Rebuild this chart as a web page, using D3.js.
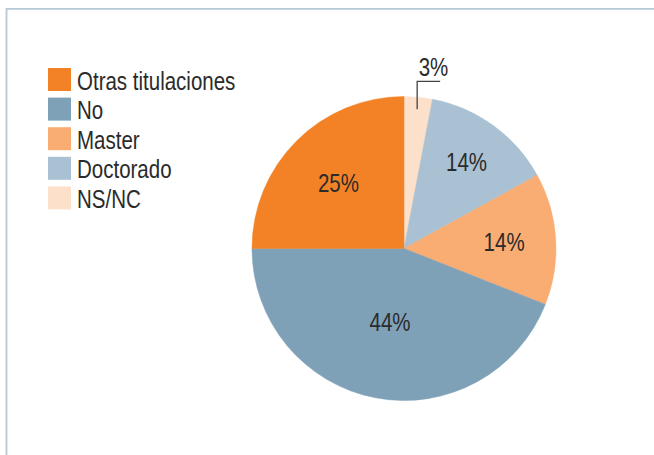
<!DOCTYPE html>
<html>
<head>
<meta charset="utf-8">
<script src="https://cdn.jsdelivr.net/npm/d3@7"></script>
<style>
    body { margin: 0; background: #fff; }
    svg { display: block; }
    text { font-family: "Liberation Sans Narrow", "Liberation Sans", sans-serif; fill: #2b2b2b; }
</style>
</head>
<body>
<div id="pie-chart"></div>
<script>
// slices, clockwise from 12 o'clock
var categories = ['NS/NC', 'Doctorado', 'Master', 'No', 'Otras titulaciones'];
var percents = [3, 14, 14, 44, 25];
// legend order as printed
var legendOrder = ['Otras titulaciones', 'No', 'Master', 'Doctorado', 'NS/NC'];

var colors = {
    'Otras titulaciones': '#f38226',
    'No': '#7fa1b8',
    'Master': '#f9ad73',
    'Doctorado': '#a9c1d2',
    'NS/NC': '#fde0c9'
};
// how far from the centre each label sits (share of radius)
var labelPos = { 'Doctorado': 0.70, 'Master': 0.66, 'No': 0.49, 'Otras titulaciones': 0.61 };

var width = 654, height = 455;
var cx = 404, cy = 248.5, radius = 152;
var squeeze = 0.82; // the original face is a narrow sans

var svg = d3.select('#pie-chart').append('svg')
    .attr('width', width)
    .attr('height', height);

// frame (top and left rules)
svg.append('path')
    .attr('d', 'M6.5,' + height + 'V8.8H' + width)
    .style('fill', 'none')
    .style('stroke', '#b5c9d7')
    .style('stroke-width', 1.8);

var data = categories.map(function(c, i) { return { name: c, value: percents[i] }; });

var pie = d3.pie()
    .sort(null)
    .value(function(d) { return d.value; });

var arc = d3.arc().innerRadius(0).outerRadius(radius);

var slices = pie(data);

var g = svg.append('g')
    .attr('transform', 'translate(' + cx + ',' + cy + ')');

g.selectAll('path.slice')
    .data(slices)
    .enter().append('path')
    .attr('class', 'slice')
    .attr('d', arc)
    .style('fill', function(d) { return colors[d.data.name]; })
    .style('stroke', function(d) { return colors[d.data.name]; })
    .style('stroke-width', 0.5);

function midAngle(d) { return (d.startAngle + d.endAngle) / 2; }

// labels inside the slices
g.selectAll('text.pct')
    .data(slices.filter(function(d) { return labelPos[d.data.name]; }))
    .enter().append('text')
    .attr('class', 'pct')
    .attr('transform', function(d) {
        var r = radius * labelPos[d.data.name];
        return 'translate(' + (Math.sin(midAngle(d)) * r) + ',' + (-Math.cos(midAngle(d)) * r) + ') scale(' + squeeze + ',1)';
    })
    .attr('dy', '0.36em')
    .style('text-anchor', 'middle')
    .style('font-size', '25px')
    .text(function(d) { return d.data.value + '%'; });

// small slice gets a leader line
var small = slices.filter(function(d) { return !labelPos[d.data.name]; });
small.forEach(function(d) {
    var a = midAngle(d);
    var lx = Math.sin(a) * radius * 0.92;
    var y0 = -Math.cos(a) * radius * 0.92;
    var y1 = -radius * 1.1;
    g.append('path')
        .attr('d', 'M' + lx + ',' + y0 + 'V' + y1 + 'h23')
        .style('fill', 'none')
        .style('stroke', '#444')
        .style('stroke-width', 1.3);
    g.append('text')
        .attr('transform', 'translate(' + (lx + 1.5) + ',' + (y1 - 5) + ') scale(' + squeeze + ',1)')
        .style('font-size', '25px')
        .text(d.data.value + '%');
});

// legend
var legend = svg.append('g')
    .attr('transform', 'translate(48,68)');

var item = legend.selectAll('g')
    .data(legendOrder)
    .enter().append('g')
    .attr('transform', function(d, i) { return 'translate(0,' + (i * 29.6) + ')'; });

item.append('rect')
    .attr('width', 23)
    .attr('height', 23)
    .style('fill', function(d) { return colors[d]; });

item.append('text')
    .attr('transform', 'translate(29,21.5) scale(' + squeeze + ',1)')
    .style('font-size', '25px')
    .text(function(d) { return d; });
</script>
</body>
</html>
